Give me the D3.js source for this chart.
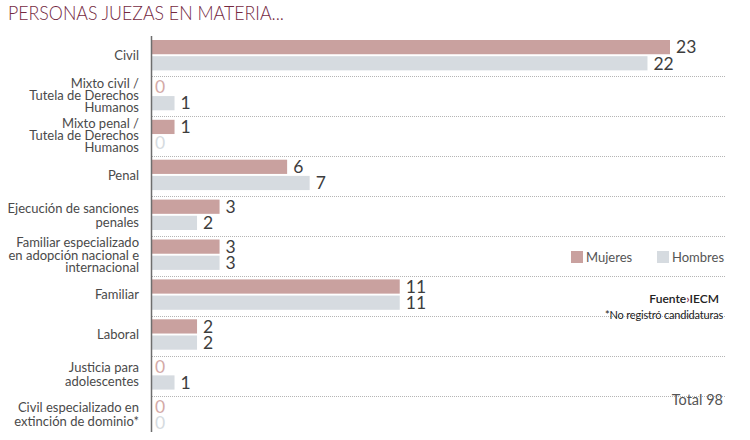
<!DOCTYPE html>
<html>
<head>
<meta charset="utf-8">
<script src="https://cdn.jsdelivr.net/npm/d3@7"></script>
<style>
	body { margin: 0; background: #fff; }
	svg { display: block; font-family: Lato, sans-serif; }
</style>
</head>
<body>
<svg></svg>
<script>
const categories = [
	['Civil'],
	['Mixto civil /', 'Tutela de Derechos', 'Humanos'],
	['Mixto penal /', 'Tutela de Derechos', 'Humanos'],
	['Penal'],
	['Ejecución de sanciones', 'penales'],
	['Familiar especializado', 'en adopción nacional e', 'internacional'],
	['Familiar'],
	['Laboral'],
	['Justicia para', 'adolescentes'],
	['Civil especializado en', 'extinción de dominio*']
]
const mujeres = [23, 0, 1, 6, 3, 3, 11, 2, 0, 0]
const hombres = [22, 1, 0, 7, 2, 3, 11, 2, 1, 0]
const seriesNames = ['Mujeres', 'Hombres']
const total = 98

const width = 750,
	height = 440,
	colors = ['#c9a19f', '#d6dbe0'],
	zeroColors = ['#d4aaa7', '#d6dbe0']

const svg = d3.select('svg')
	.attr('width', width)
	.attr('height', height)

const x = d3.scaleLinear()
	.domain([0, 23])
	.range([152, 670])

const y = d3.scaleBand()
	.domain(d3.range(categories.length))
	.range([36.5, 435.5])

const inner = d3.scaleBand()
	.domain([0, 1])
	.range([3.5, y.bandwidth() - 6])
	.paddingInner(0.12)

// title
svg.append('text')
	.attr('x', 8)
	.attr('y', 19.5)
	.attr('fill', '#74293f')
	.style('font-size', '19.5px')
	.style('font-weight', 300)
	.attr('textLength', 276)
	.attr('lengthAdjust', 'spacingAndGlyphs')
	.text('PERSONAS JUEZAS EN MATERIA...')

// dotted separators
svg.append('g')
	.selectAll('line')
	.data(d3.range(1, categories.length))
	.enter()
	.append('line')
	.attr('x1', x(0))
	.attr('x2', 725)
	.attr('y1', i => Math.round(y(i)) + 0.5)
	.attr('y2', i => Math.round(y(i)) + 0.5)
	.attr('stroke', '#b5b5b5')
	.attr('stroke-dasharray', '1,1')

const group = svg.append('g')
	.selectAll('g')
	.data(categories)
	.enter()
	.append('g')
	.attr('transform', (d, i) => 'translate(0,' + y(i) + ')')

// category labels
group.each(function(lines) {
	const lh = lines.length > 2 ? 12.3 : 14
	const mid = y.bandwidth() / 2 - 1
	d3.select(this).append('text')
		.attr('text-anchor', 'end')
		.attr('fill', '#4a4a4a')
		.style('font-size', '13px')
		.selectAll('tspan')
		.data(lines)
		.enter()
		.append('tspan')
		.attr('x', 139)
		.attr('y', (l, j) => mid + (j - (lines.length - 1) / 2) * lh)
		.attr('dy', '0.35em')
		.text(l => l)
})

const series = [mujeres, hombres]

series.forEach((vals, s) => {
	group.append('rect')
		.attr('x', x(0))
		.attr('y', inner(s))
		.attr('width', (d, i) => x(vals[i]) - x(0))
		.attr('height', inner.bandwidth())
		.attr('fill', colors[s])

	group.append('text')
		.attr('x', (d, i) => vals[i] === 0 ? x(0) + 3 : x(vals[i]) + 6)
		.attr('y', inner(s) + inner.bandwidth() / 2)
		.attr('dy', '0.36em')
		.attr('fill', (d, i) => vals[i] === 0 ? zeroColors[s] : '#3d3d3d')
		.style('font-size', '17.5px')
		.text((d, i) => vals[i])
})

// axis line
svg.append('line')
	.attr('x1', x(0) - 0.5)
	.attr('x2', x(0) - 0.5)
	.attr('y1', 36)
	.attr('y2', 432)
	.attr('stroke', '#6e6e6e')
	.attr('stroke-width', 1.5)

// legend
const legend = svg.append('g')
	.selectAll('g')
	.data(seriesNames)
	.enter()
	.append('g')
	.attr('transform', (d, i) => 'translate(' + (571 + i * 86) + ',251)')

legend.append('rect')
	.attr('width', 12)
	.attr('height', 12)
	.attr('fill', (d, i) => colors[i])

legend.append('text')
	.attr('x', 15)
	.attr('y', 11)
	.attr('fill', '#555')
	.style('font-size', '13px')
	.text(d => d)

// notes
const fuente = svg.append('text')
	.attr('x', 719)
	.attr('y', 303)
	.attr('text-anchor', 'end')
	.attr('fill', '#222')
	.style('font-size', '12px')
	.style('font-weight', 600)
fuente.append('tspan').text('Fuente')
fuente.append('tspan').attr('fill', '#8a2c48').text('›')
fuente.append('tspan').text('IECM')

svg.append('text')
	.attr('x', 723)
	.attr('y', 319)
	.attr('text-anchor', 'end')
	.attr('fill', '#222')
	.style('font-size', '11px')
	.attr('letter-spacing', '-0.2')
	.text('*No registró candidaturas')

svg.append('text')
	.attr('x', 723)
	.attr('y', 405)
	.attr('text-anchor', 'end')
	.attr('fill', '#555')
	.style('font-size', '14.5px')
	.text('Total ' + total)
</script>
</body>
</html>
